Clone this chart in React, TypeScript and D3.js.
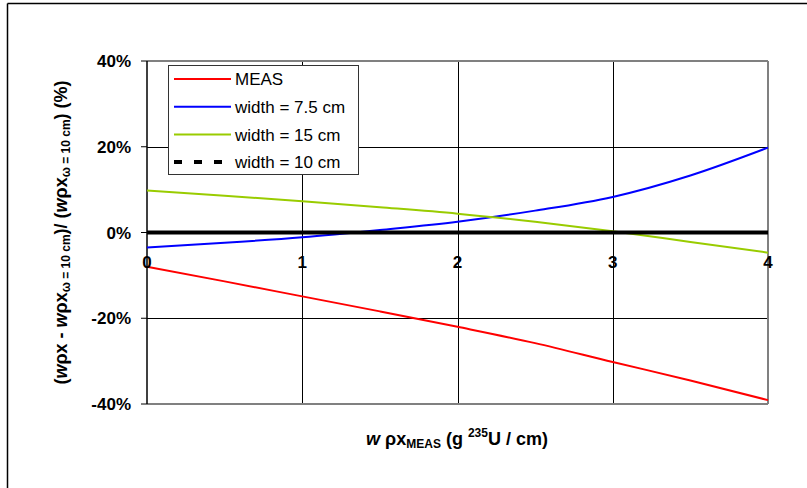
import React from "react";
import * as d3 from "d3";

const xValues = [0, 0.5, 1, 1.5, 2, 2.5, 3, 3.5, 4];
const measValues = [-8, -11.4, -14.9, -18.4, -22, -25.8, -30.2, -34.5, -39.1];
const w75Values = [-3.5, -2.4, -1.1, 0.6, 2.5, 5.1, 8.3, 13.3, 19.8];
const w15Values = [9.8, 8.6, 7.3, 5.9, 4.4, 2.5, 0.3, -2.2, -4.7];
const w10Values = [0, 0, 0, 0, 0, 0, 0, 0, 0];
const xTicks = [0, 1, 2, 3, 4];
const yTicks = [-40, -20, 0, 20, 40];
const legendLabels = ["MEAS", "width = 7.5 cm", "width = 15 cm", "width = 10 cm"];

const W = 807;
const H = 488;
const left = 147, right = 768, top = 61, bottom = 404;
const FONT = "'Liberation Sans', Arial, sans-serif";

export default function App() {
  const x = d3.scaleLinear().domain([0, 4]).range([left, right]);
  const y = d3.scaleLinear().domain([-40, 40]).range([bottom, top]);
  const line = d3
    .line<number>()
    .x((_, i) => x(xValues[i]))
    .y((d) => y(d))
    .curve(d3.curveMonotoneX);

  const series = [
    { name: legendLabels[0], values: measValues, color: "#ff0000", width: 2, dash: "" },
    { name: legendLabels[1], values: w75Values, color: "#0000ff", width: 2, dash: "" },
    { name: legendLabels[2], values: w15Values, color: "#99cc00", width: 2, dash: "" },
    { name: legendLabels[3], values: w10Values, color: "#000000", width: 4, dash: "8,12" },
  ];

  const legX = 168, legY = 65, legW = 190, legH = 109;

  return (
    <svg
      width={W}
      height={H}
      style={{ position: "fixed", left: 0, top: 0, background: "#fff" }}
      fontFamily={FONT}
    >
      <rect x={0} y={0} width={W} height={H} fill="#fff" />
      {/* outer frame (top + left visible) */}
      <line x1={7.5} y1={3.5} x2={W} y2={3.5} stroke="#000" strokeWidth={1.5} />
      <line x1={7.5} y1={3.5} x2={7.5} y2={H} stroke="#000" strokeWidth={1.5} />

      {/* gridlines */}
      {xTicks.filter((t) => t > 0 && t < 4).map((t) => (
        <line key={"gx" + t} x1={Math.round(x(t)) + 0.5} x2={Math.round(x(t)) + 0.5} y1={top} y2={bottom} stroke="#000" strokeWidth={1} />
      ))}
      {yTicks.filter((t) => t !== 0 && Math.abs(t) < 40).map((t) => (
        <line key={"gy" + t} x1={left} x2={right} y1={Math.round(y(t)) + 0.5} y2={Math.round(y(t)) + 0.5} stroke="#000" strokeWidth={1} />
      ))}

      {/* plot border */}
      <line x1={left} x2={right} y1={top} y2={top} stroke="#808080" strokeWidth={2} />
      <line x1={right} x2={right} y1={top} y2={bottom} stroke="#808080" strokeWidth={2} />
      <line x1={left} x2={right} y1={bottom} y2={bottom} stroke="#808080" strokeWidth={2} />

      {/* y axis */}
      <line x1={left} x2={left} y1={top} y2={bottom} stroke="#000" strokeWidth={1.5} />
      {yTicks.map((t) => (
        <g key={"yt" + t}>
          <line x1={left - 6} x2={left} y1={y(t)} y2={y(t)} stroke="#000" strokeWidth={1} />
          <text x={131} y={y(t)} dy="0.36em" textAnchor="end" fontSize={17} fontWeight="bold">
            {t + "%"}
          </text>
        </g>
      ))}

      {/* series */}
      {series.map((s) => (
        <path
          key={s.name}
          d={line(s.values) || ""}
          fill="none"
          stroke={s.color}
          strokeWidth={s.width}
        />
      ))}

      {/* x tick labels */}
      {xTicks.map((t) => (
        <text key={"xt" + t} x={x(t)} y={268} textAnchor="middle" fontSize={17} fontWeight="bold">
          {t}
        </text>
      ))}

      {/* legend */}
      <rect x={legX + 0.5} y={legY + 0.5} width={legW} height={legH} fill="#fff" stroke="#333" strokeWidth={1} />
      {series.map((s, i) => {
        const ly = 79 + i * 27.7;
        return (
          <g key={"lg" + s.name}>
            <line
              x1={174}
              x2={231}
              y1={ly}
              y2={ly}
              stroke={s.color}
              strokeWidth={s.width}
              strokeDasharray={s.dash || undefined}
            />
            <text x={235} y={ly} dy="0.36em" fontSize={17}>
              {s.name}
            </text>
          </g>
        );
      })}

      {/* x axis title */}
      <text x={457} y={445} textAnchor="middle" fontSize={18} fontWeight="bold">
        <tspan fontStyle="italic">w</tspan>
        <tspan> ρx</tspan>
        <tspan fontSize={12} dy={3}>MEAS</tspan>
        <tspan dy={-3}> (g </tspan>
        <tspan fontSize={12} dy={-8}>235</tspan>
        <tspan dy={8}>U / cm)</tspan>
      </text>

      {/* y axis title */}
      <text
        transform={`translate(67, ${(top + bottom) / 2}) rotate(-90)`}
        textAnchor="middle"
        fontSize={18}
        fontWeight="bold"
      >
        <tspan>(</tspan>
        <tspan fontStyle="italic">w</tspan>
        <tspan>ρx - </tspan>
        <tspan fontStyle="italic">w</tspan>
        <tspan>ρx</tspan>
        <tspan fontSize={12} dy={3}>ω = 10 cm</tspan>
        <tspan dy={-3}>)/ (</tspan>
        <tspan fontStyle="italic">w</tspan>
        <tspan>ρx</tspan>
        <tspan fontSize={12} dy={3}>ω = 10 cm</tspan>
        <tspan dy={-3}>) (%)</tspan>
      </text>
    </svg>
  );
}
